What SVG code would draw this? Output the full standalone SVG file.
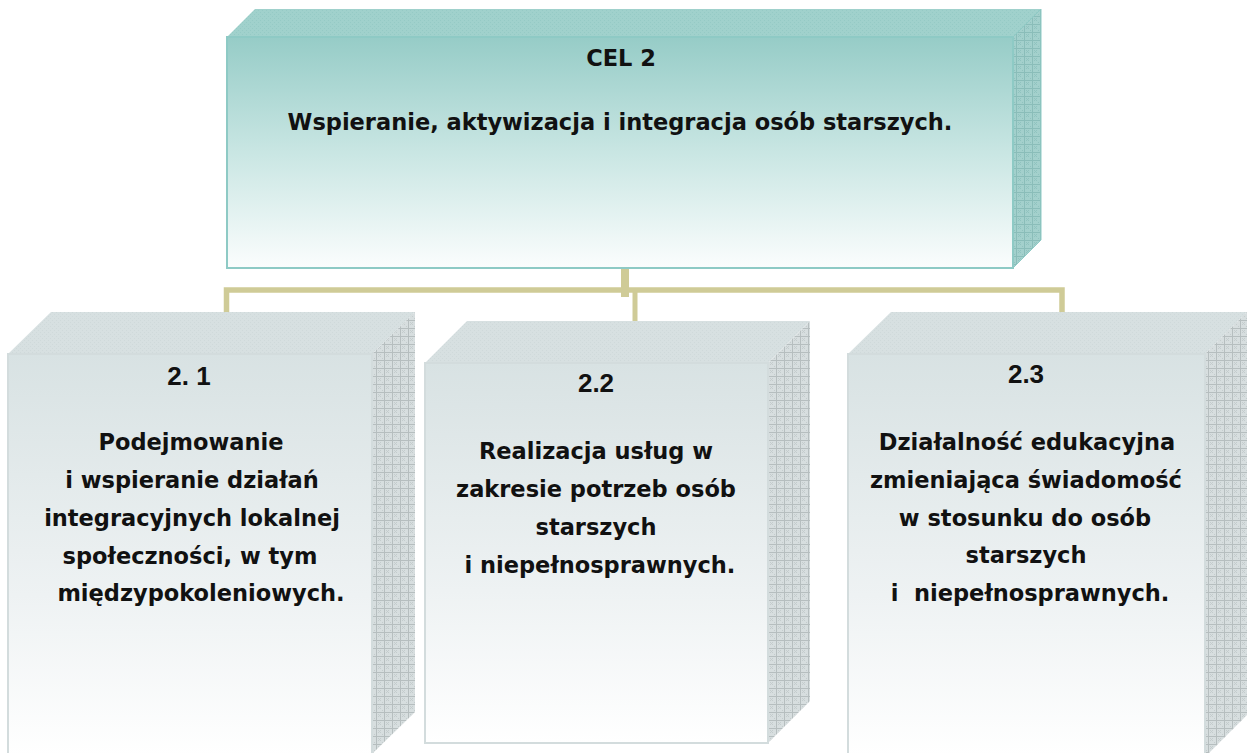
<svg xmlns="http://www.w3.org/2000/svg" width="1249" height="753" viewBox="0 0 1249 753">
<style>
.t{font-family:"DejaVu Sans","Liberation Sans",sans-serif;font-weight:bold;font-size:22.5px;fill:#111;text-anchor:middle;white-space:pre}
.n{font-family:"Liberation Sans",Arial,sans-serif;font-weight:bold;font-size:26px;fill:#111;text-anchor:middle}
.conn{fill:none;stroke:#cfcb97;stroke-linecap:butt}
.topFace{fill:url(#dotsTeal)}
.sideTeal{fill:url(#gridTeal);stroke:#8ecac5;stroke-width:1}
.frontTeal{fill:url(#gTeal);stroke:#8ecac5;stroke-width:2}
.topGrey{fill:url(#dotsGrey)}
.sideGrey{fill:url(#gridGrey)}
.frontGrey{fill:url(#gGrey);stroke:#d3dcdd;stroke-width:2}
</style>
<defs>
<linearGradient id="gTeal" x1="0" y1="0" x2="0" y2="1">
<stop offset="0" stop-color="#96ccc7"/>
<stop offset="0.5" stop-color="#c9e6e3"/>
<stop offset="1" stop-color="#fbfdfd"/>
</linearGradient>
<linearGradient id="gGrey" x1="0" y1="0" x2="0" y2="1">
<stop offset="0" stop-color="#d8e2e3"/>
<stop offset="0.6" stop-color="#eef2f3"/>
<stop offset="1" stop-color="#ffffff"/>
</linearGradient>
<pattern id="dotsTeal" width="4" height="4" patternUnits="userSpaceOnUse">
<rect width="4" height="4" fill="#a0d1cc"/>
<path d="M0 0h1v1h-1zM2 2h1v1h-1z" fill="#95cac5"/>
</pattern>
<pattern id="dotsGrey" width="4" height="4" patternUnits="userSpaceOnUse">
<rect width="4" height="4" fill="#d7e0e1"/>
<path d="M0 0h1v1h-1zM2 2h1v1h-1z" fill="#cfd9da"/>
</pattern>
<pattern id="gridTeal" width="8" height="8" patternUnits="userSpaceOnUse">
<rect width="8" height="8" fill="#a3d0cc"/>
<path d="M2 2h1v1h-1zM4 2h1v1h-1zM3 3h1v1h-1zM2 4h1v1h-1zM4 4h1v1h-1zM6 6h1v1h-1z" fill="#90c3bf"/>
<path d="M0 .5H8M.5 0V8" stroke="#8abdb9" stroke-width="1"/>
</pattern>
<pattern id="gridGrey" width="8" height="8" patternUnits="userSpaceOnUse">
<rect width="8" height="8" fill="#d7dedf"/>
<path d="M2 2h1v1h-1zM4 2h1v1h-1zM3 3h1v1h-1zM2 4h1v1h-1zM4 4h1v1h-1zM6 6h1v1h-1z" fill="#c4cccd"/>
<path d="M0 .5H8M.5 0V8" stroke="#b6bebf" stroke-width="1"/>
</pattern>
</defs>

<g id="connectors">
<path class="conn" d="M226.5 312V290H1062V312" stroke-width="5.5"/>
<path class="conn" d="M635 290V321" stroke-width="5"/>
<path class="conn" d="M625 268V297" stroke-width="8"/>
</g>

<g id="cel2">
<polygon class="topFace" points="227,37 255,9 1041,9 1013,37"/>
<polygon class="sideTeal" points="1013,37 1041,9 1041,240 1013,268"/>
<rect class="frontTeal" x="227" y="37" width="786" height="231"/>
<text class="t" x="621" y="66">CEL 2</text>
<text class="t" x="620" y="130">Wspieranie, aktywizacja i integracja osób starszych.</text>
</g>

<g id="node21">
<polygon class="topGrey" points="8,354 51,312 415,312 372,354"/>
<polygon class="sideGrey" points="372,354 415,312 415,712 372,754"/>
<rect class="frontGrey" x="8" y="354" width="364" height="402" stroke="none"/>
<text class="n" x="189" y="385">2. 1</text>
<text class="t" x="191" y="450">Podejmowanie</text>
<text class="t" x="192" y="488">i wspieranie działań</text>
<text class="t" x="192" y="526">integracyjnych lokalnej</text>
<text class="t" x="190" y="564">społeczności, w tym</text>
<text class="t" x="201" y="601">międzypokoleniowych.</text>
</g>

<g id="node22">
<polygon class="topGrey" points="425,363 467,321 810,321 768,363"/>
<polygon class="sideGrey" points="768,363 810,321 810,701 768,743"/>
<rect class="frontGrey" x="425" y="363" width="343" height="380"/>
<text class="n" x="596" y="392">2.2</text>
<text class="t" x="596" y="459">Realizacja usług w</text>
<text class="t" x="596" y="497">zakresie potrzeb osób</text>
<text class="t" x="596" y="535">starszych</text>
<text class="t" x="596" y="573"> i niepełnosprawnych.</text>
</g>

<g id="node23">
<polygon class="topGrey" points="848,354 891,312 1247,312 1205,354"/>
<polygon class="sideGrey" points="1205,354 1247,312 1247,715 1205,757"/>
<rect class="frontGrey" x="848" y="354" width="357" height="402" stroke="none"/>
<text class="n" x="1026" y="383">2.3</text>
<text class="t" x="1027" y="450">Działalność edukacyjna</text>
<text class="t" x="1026" y="488">zmieniająca świadomość</text>
<text class="t" x="1025" y="526">w stosunku do osób</text>
<text class="t" x="1026" y="563">starszych</text>
<text class="t" x="1030" y="601">i  niepełnosprawnych.</text>
</g>
</svg>
